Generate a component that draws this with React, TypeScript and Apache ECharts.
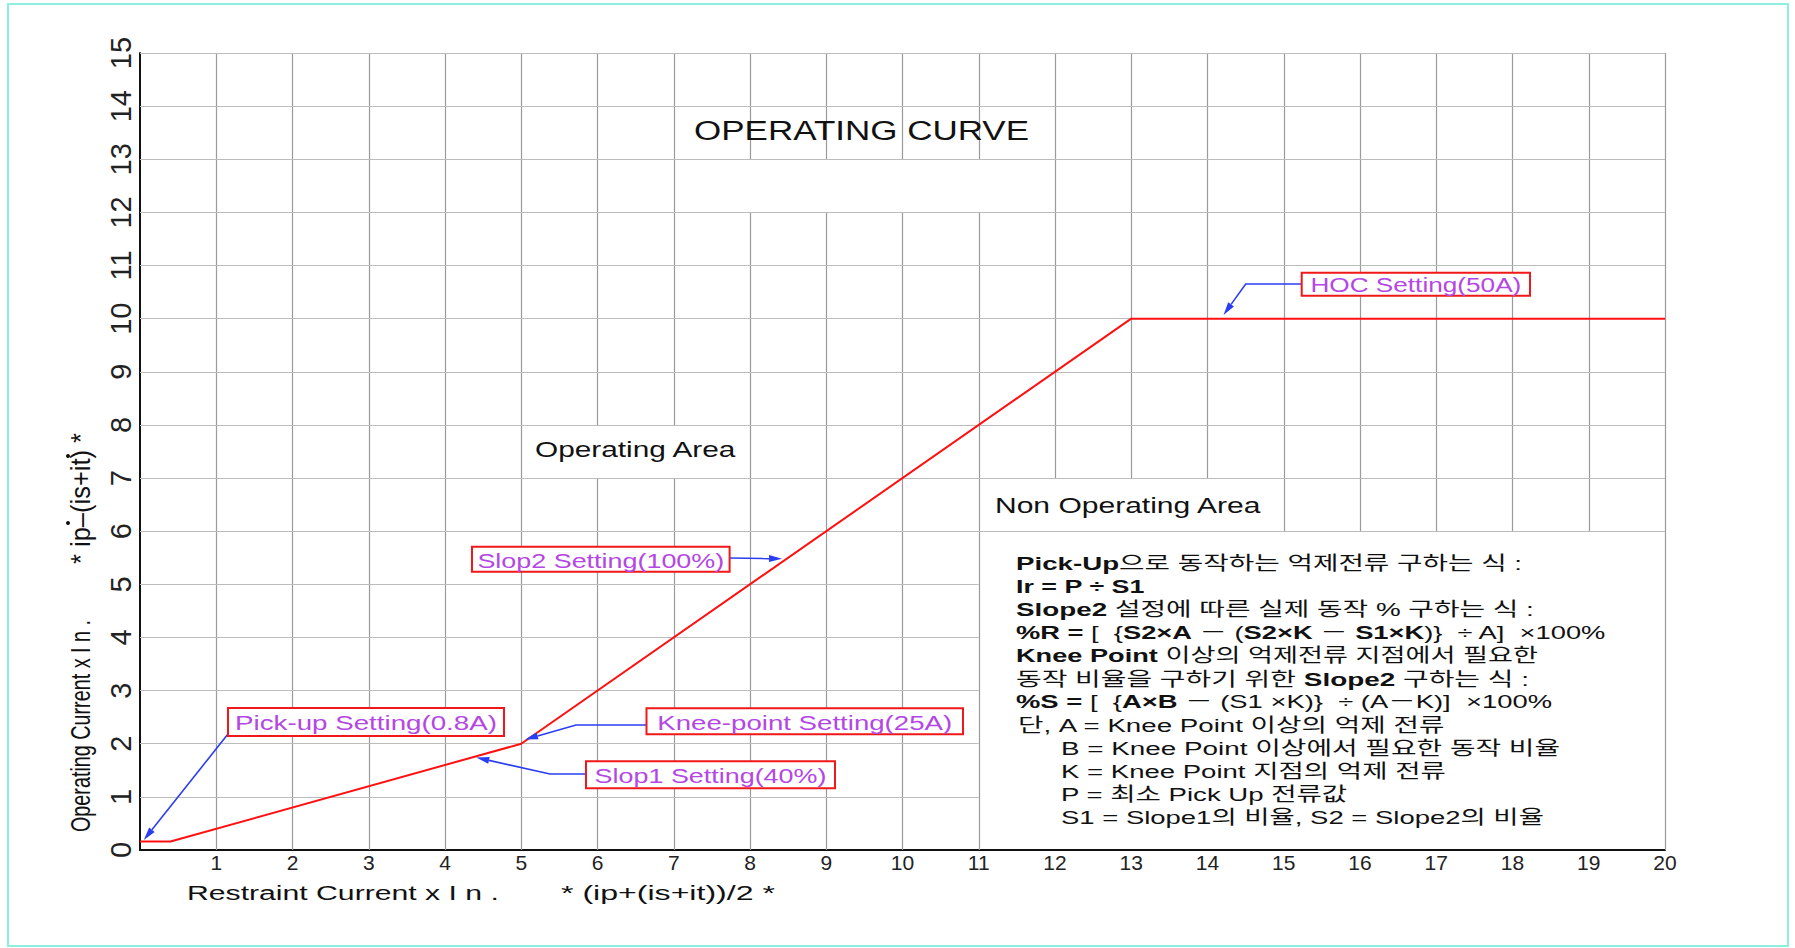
import React, { useEffect, useRef } from 'react';
import * as echarts from 'echarts';

// ---- data ----
const curveX = [0, 0.4, 5, 13, 20];
const curveY = [0.16, 0.16, 2, 10, 10];

const xTickLabels = ['', '1', '2', '3', '4', '5', '6', '7', '8', '9', '10', '11', '12', '13', '14', '15', '16', '17', '18', '19', '20'];
const yTickLabels = ['0', '1', '2', '3', '4', '5', '6', '7', '8', '9', '10', '11', '12', '13', '14', '15'];

// vertical grid segments [x, yFrom, yTo]
const vGrid = [
  [1, 0, 15], [2, 0, 15], [3, 0, 15], [4, 0, 15], [5, 0, 15],
  [6, 0, 7], [6, 8, 15], [7, 0, 7], [7, 8, 15],
  [8, 0, 12], [8, 13, 15], [9, 0, 12], [9, 13, 15], [10, 0, 12], [10, 13, 15], [11, 0, 12], [11, 13, 15],
  [12, 7, 15], [13, 7, 15], [14, 7, 15],
  [15, 6, 15], [16, 6, 15], [17, 6, 15], [18, 6, 15], [19, 6, 15], [20, 0, 15],
];
// horizontal grid segments [y, xFrom, xTo]
const hGrid = [
  [1, 0, 11], [2, 0, 11], [3, 0, 11], [4, 0, 11], [5, 0, 11],
  [6, 0, 20], [7, 0, 20], [8, 0, 20], [9, 0, 20], [10, 0, 20], [11, 0, 20],
  [12, 0, 20], [13, 0, 20], [14, 0, 20], [15, 0, 20],
];

// annotation labels and the curve points they point at
const annoTexts = ['Pick-up Setting(0.8A)', 'Knee-point Setting(25A)', 'Slop1 Setting(40%)', 'Slop2 Setting(100%)', 'HOC Setting(50A)'];
const annoTips = [[0.05, 0.19], [5.05, 2.08], [4.41, 1.74], [8.42, 5.48], [14.21, 10.07]];

const freeTexts = ['OPERATING CURVE', 'Operating Area', 'Non Operating Area'];
const xTitle = ['Restraint Current x I n .', '* (ip+(is+it))/2 *'];
const yTitle = ['Operating Current x I n .', '* ip–(is+it) *'];

// formula lines: segments [text, bold]
const formulaLines: [string, number][][] = [
  [['Pick-Up', 1], ['으로 동작하는 억제전류 구하는 식 :', 0]],
  [['Ir = P ÷ S1', 1]],
  [['Slope2', 1], [' 설정에 따른 실제 동작 % 구하는 식 :', 0]],
  [['%R =', 1], [' [  {', 0], ['S2×A', 1], [' － (', 0], ['S2×K', 1], [' － ', 0], ['S1×K', 1], [')}  ÷ A]  ×100%', 0]],
  [['Knee Point', 1], [' 이상의 억제전류 지점에서 필요한', 0]],
  [['동작 비율을 구하기 위한 ', 0], ['Slope2', 1], [' 구하는 식 :', 0]],
  [['%S =', 1], [' [  {', 0], ['A×B', 1], [' － (S1 ×K)}  ÷ (A－K)]  ×100%', 0]],
  [['단, A = Knee Point 이상의 억제 전류', 0]],
  [['B = Knee Point 이상에서 필요한 동작 비율', 0]],
  [['K = Knee Point 지점의 억제 전류', 0]],
  [['P = 최소 Pick Up 전류값', 0]],
  [['S1 = Slope1의 비율, S2 = Slope2의 비율', 0]],
];

// ---- layout (pixels) ----
const FONT = "'Liberation Sans', 'Noto Sans CJK KR', sans-serif";
const annoBoxes = [
  [228, 708, 504, 736], [646.5, 708.3, 963, 734.3], [586, 761.3, 835, 788.3], [472, 546.7, 729.6, 571.7], [1301.7, 272.7, 1530, 295.7],
];
const annoTextW = [262, 295, 232, 247, 211];
const annoPaths = [
  [[228, 734]], [[646.5, 725], [576, 725]], [[586, 774], [550, 774]], [[729.6, 558]], [[1301.7, 284], [1245.7, 284]],
];
const freeLayout = [
  { x: 694, y: 130.5, size: 27, w: 335 },
  { x: 535, y: 449.5, size: 22, w: 202 },
  { x: 995, y: 505, size: 22, w: 267 },
];
const xTitleLayout = [{ x: 187, y: 893, size: 21, w: 312 }, { x: 561, y: 893, size: 21, w: 214 }];
const yTitleLayout = [{ x: 81, y: 832, size: 27, w: 212 }, { x: 81, y: 564, size: 27, w: 131 }];
const yTitleDots = [[68, 523], [68, 456]];
const formulaStartX = [1016, 1016, 1016, 1016, 1016, 1016, 1016, 1018, 1061, 1061, 1061, 1061];
const formulaEndX = [1522, 1145, 1534, 1607, 1538, 1529, 1552, 1446, 1560, 1446, 1348, 1544];

export default function App() {
  const ref = useRef<HTMLDivElement>(null);
  useEffect(() => {
    if (!ref.current) return;
    const chart = echarts.init(ref.current, null, { renderer: 'svg' });
    chart.setOption({
      animation: false,
      backgroundColor: '#ffffff',
      grid: { left: 140, top: 53, width: 1525, height: 797, containLabel: false },
      xAxis: {
        type: 'value', min: 0, max: 20, interval: 1,
        splitLine: { show: false }, axisTick: { show: false },
        axisLine: { show: true, lineStyle: { color: '#111', width: 2 } },
        axisLabel: { fontSize: 21, color: '#222', fontFamily: FONT, margin: 2, formatter: (v: number) => xTickLabels[Math.round(v)] ?? '' },
      },
      yAxis: {
        type: 'value', min: 0, max: 15, interval: 1,
        splitLine: { show: false }, axisTick: { show: false },
        axisLine: { show: true, lineStyle: { color: '#111', width: 2 } },
        axisLabel: { fontSize: 29, color: '#222', fontFamily: "'Liberation Sans Narrow', 'Liberation Sans', sans-serif", rotate: 90, margin: 5, formatter: (v: number) => yTickLabels[Math.round(v)] ?? '' },
      },
      series: [
        {
          type: 'lines', coordinateSystem: 'cartesian2d', silent: true, z: 1,
          data: vGrid.map(([x, a, b]) => ({ coords: [[x, a], [x, b]] })),
          lineStyle: { color: '#9a9a9a', width: 1.2, opacity: 1 },
        },
        {
          type: 'lines', coordinateSystem: 'cartesian2d', silent: true, z: 1,
          data: hGrid.map(([y, a, b]) => ({ coords: [[a, y], [b, y]] })),
          lineStyle: { color: '#bcbcbc', width: 1.2, opacity: 1 },
        },
        {
          type: 'line', silent: true, z: 5, symbol: 'none',
          data: curveX.map((x, i) => [x, curveY[i]]),
          lineStyle: { color: '#ff1010', width: 2 },
        },
      ],
    });

    const ctx = document.createElement('canvas').getContext('2d')!;
    const measure = (t: string, size: number, bold = false) => {
      ctx.font = `${bold ? 'bold ' : ''}${size}px ${FONT}`;
      return ctx.measureText(t).width;
    };
    const g: any[] = [];
    g.push({ type: 'rect', z: 0, shape: { x: 8, y: 4, width: 1780, height: 942 }, style: { fill: 'none', stroke: '#8eeee0', lineWidth: 2 } });

    const plainText = (text: string, L: any, rot = false) => ({
      type: 'text', z: 100, x: L.x, y: L.y, rotation: rot ? Math.PI / 2 : 0,
      scaleX: L.w / measure(text, L.size),
      style: { text, fontSize: L.size, fontFamily: FONT, fill: '#111', align: 'left', verticalAlign: 'middle' },
    });
    freeTexts.forEach((t, i) => g.push(plainText(t, freeLayout[i])));
    xTitle.forEach((t, i) => g.push(plainText(t, xTitleLayout[i])));
    yTitle.forEach((t, i) => g.push(plainText(t, yTitleLayout[i], true)));
    yTitleDots.forEach(([cx, cy]) => g.push({ type: 'circle', z: 100, shape: { cx, cy, r: 2 }, style: { fill: '#111' } }));

    // annotations
    annoTexts.forEach((t, i) => {
      const [x0, y0, x1, y1] = annoBoxes[i];
      const tip = chart.convertToPixel({ gridIndex: 0 }, annoTips[i]) as number[];
      const pts = [...annoPaths[i], tip];
      const a = pts[pts.length - 2];
      const dx = tip[0] - a[0], dy = tip[1] - a[1];
      const len = Math.hypot(dx, dy) || 1;
      const ux = dx / len, uy = dy / len;
      const L = 13, W = 3.5;
      const bx = tip[0] - ux * L, by = tip[1] - uy * L;
      g.push({ type: 'polyline', z: 90, shape: { points: pts.slice(0, -1).concat([[bx, by]]) }, style: { stroke: '#2b3df2', lineWidth: 1.6, fill: 'none' } });
      g.push({ type: 'polygon', z: 90, shape: { points: [tip, [bx - uy * W, by + ux * W], [bx + uy * W, by - ux * W]] }, style: { fill: '#2b3df2' } });
      g.push({ type: 'rect', z: 95, shape: { x: x0, y: y0, width: x1 - x0, height: y1 - y0 }, style: { fill: '#fff', stroke: '#f01818', lineWidth: 2 } });
      g.push({
        type: 'text', z: 100, x: (x0 + x1) / 2, y: (y0 + y1) / 2 + 1, scaleX: annoTextW[i] / measure(t, 21),
        style: { text: t, fontSize: 21, fontFamily: FONT, fill: '#b447e4', align: 'center', verticalAlign: 'middle' },
      });
    });

    // formula block
    const FS = 19;
    formulaLines.forEach((segs, i) => {
      let w = 0;
      let txt = '';
      segs.forEach(([s, b]) => {
        w += measure(s, FS, !!b);
        txt += b ? `{b|${s}}` : s;
      });
      g.push({
        type: 'text', z: 100, x: formulaStartX[i], y: 563.3 + 23.1 * i,
        scaleX: (formulaEndX[i] - formulaStartX[i]) / w,
        style: {
          text: txt, fontSize: FS, fontFamily: FONT, fill: '#111', align: 'left', verticalAlign: 'middle',
          rich: { b: { fontSize: FS, fontFamily: FONT, fontWeight: 'bold', fill: '#111' } },
        },
      });
    });

    chart.setOption({ graphic: g });
    return () => chart.dispose();
  }, []);
  return <div ref={ref} style={{ position: 'absolute', left: 0, top: 0, width: 1795, height: 948, background: '#fff' }} />;
}
